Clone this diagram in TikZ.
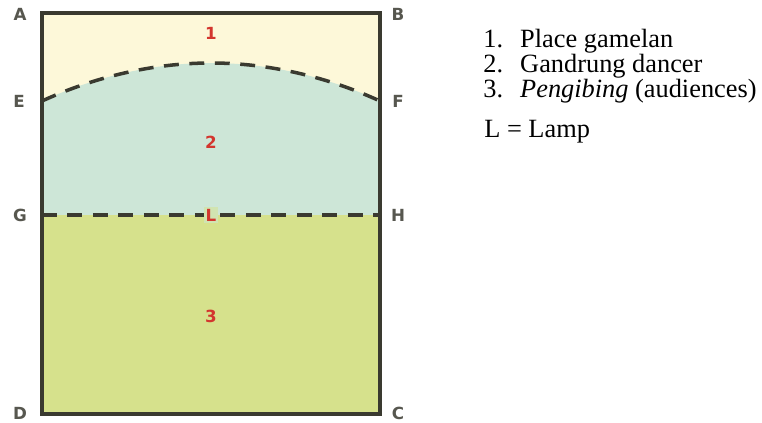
\documentclass[tikz,border=0pt]{standalone}
\usepackage{fontspec}
\setmainfont{Liberation Serif}
\setsansfont{DejaVu Sans}
\usepackage{xcolor}
\definecolor{zoneone}{HTML}{FDF8D9}
\definecolor{zonetwo}{HTML}{CDE6D7}
\definecolor{zonethree}{HTML}{D6E18C}
\definecolor{edge}{HTML}{3A3A30}
\definecolor{mark}{HTML}{D3362E}

\begin{document}
\begin{tikzpicture}[x=0.02cm,y=-0.02cm,
  corner/.style={font=\sffamily\bfseries\fontsize{9.5}{10}\selectfont,text=edge!85},
  zone/.style={font=\sffamily\bfseries\fontsize{9.5}{10}\selectfont,text=mark},
  divide/.style={edge,line width=2pt,dash pattern=on 8.5pt off 6pt},
  legend/.style={anchor=west,font=\fontsize{15}{18}\selectfont,inner sep=0pt}]
  \useasboundingbox (0,0) rectangle (762,423);
  \coordinate (A) at (42,13);   \coordinate (B) at (380,13);
  \coordinate (E) at (42,101);  \coordinate (F) at (380,101);
  \coordinate (G) at (42,215);  \coordinate (H) at (380,215);
  \coordinate (D) at (42,414);  \coordinate (C) at (380,414);
  % zones
  \fill[zoneone] (A) rectangle (F);
  \fill[zonetwo] (E) parabola bend (211,63) (F) -- (H) -- (G) -- cycle;
  \fill[zonethree] (G) rectangle (C);
  \draw[divide] (E) parabola bend (211,63) (F);
  \draw[divide] (G) -- (H);
  \draw[edge,line width=2pt] (A) rectangle (C);
  % corner letters
  \node[corner] (la) at (20,14) {A};  \node[corner] (lb) at (398,14) {B};
  \node[corner] (le) at (19,101) {E}; \node[corner] (lf) at (398,101) {F};
  \node[corner] (lg) at (20,215) {G}; \node[corner] (lh) at (398,215) {H};
  \node[corner] (ld) at (20,413) {D}; \node[corner] (lc) at (398,413) {C};
  % zone numbers
  \node[zone] (one) at (211,33) {1};
  \node[zone] (two) at (211,142) {2};
  \node[zone,fill=zonetwo!50!zonethree,inner sep=1pt] (lamp) at (211,215) {L};
  \node[zone] (three) at (211,316) {3};
  % legend
  \node[legend] (k1) at (483,41) {\makebox[21pt][l]{1.}Place gamelan};
  \node[legend] (k2) at (483,66) {\makebox[21pt][l]{2.}Gandrung dancer};
  \node[legend] (k3) at (483,91) {\makebox[21pt][l]{3.}\textit{Pengibing} (audiences)};
  \node[legend] (kl) at (484,132) {L = Lamp};
\end{tikzpicture}
\end{document}
